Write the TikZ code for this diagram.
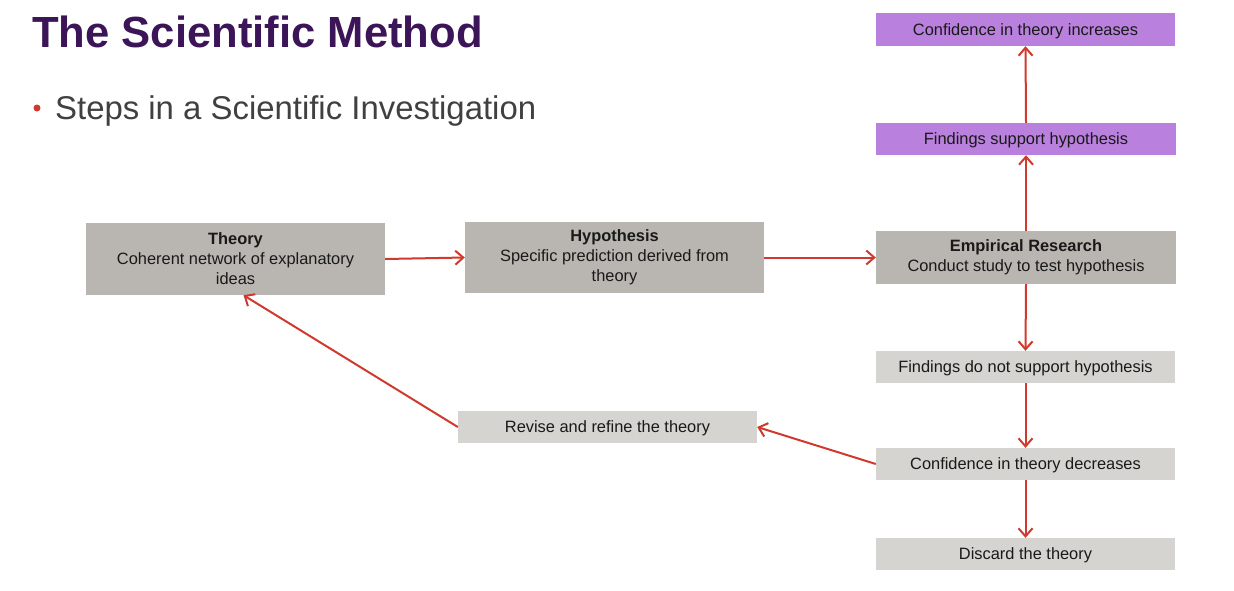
\documentclass[tikz,border=0pt]{standalone}
\usepackage{fontspec}
\setmainfont{Liberation Sans}
\usepackage{tikz}
\usetikzlibrary{arrows.meta, positioning}
\definecolor{smpurple}{RGB}{60, 20, 88}
\definecolor{smtext}{RGB}{64, 64, 64}
\definecolor{smred}{RGB}{208, 57, 46}
\definecolor{smdark}{RGB}{185, 182, 177}
\definecolor{smlight}{RGB}{214, 212, 208}
\definecolor{smlilac}{RGB}{185, 128, 222}

\begin{document}
\begin{tikzpicture}[x=1pt, y=-1pt,
    box/.style={minimum width=299pt, inner sep=0pt, align=center,
      text=black!90, font=\fontsize{16.4}{20}\selectfont},
    mainbox/.style={box, fill=smdark, minimum height=72pt},
    lowbox/.style={box, fill=smlight, minimum height=32pt, text height=14pt, text depth=3pt},
    upbox/.style={box, fill=smlilac, minimum height=32pt, text height=14pt, text depth=3pt},
    link/.style={-{Straight Barb[length=8pt, width=14pt]}, smred, line width=2pt}]

  \useasboundingbox (0,0) rectangle (1234,590);

  % --- heading ---
  \node[anchor=base west, inner sep=0pt, text=smpurple,
    font=\fontsize{43.6}{50}\selectfont\bfseries] (title) at (32,47)
    {The Scientific Method};
  \fill[smred] (37,108) circle (3.5pt);
  \node[anchor=base west, inner sep=0pt, text=smtext,
    font=\fontsize{32.9}{38}\selectfont] (sub) at (55,119.5)
    {Steps in a Scientific Investigation};

  % --- main row ---
  \node[mainbox] (theory) at (235.5,259)
    {\textbf{Theory}\\Coherent network of explanatory\\ideas};
  \node[mainbox, minimum height=71pt] (hypo) at (614.5,257.5)
    {\textbf{Hypothesis}\\Specific prediction derived from\\theory};
  \node[mainbox, minimum width=300pt, minimum height=53pt] (research) at (1026,257.5)
    {\textbf{Empirical Research}\\Conduct study to test hypothesis};

  % --- supporting branch ---
  \node[upbox, minimum width=300pt] (support) at (1026,139) {Findings support hypothesis};
  \node[upbox, minimum height=33pt] (up) at (1025.5,29.5) {Confidence in theory increases};

  % --- non-supporting branch ---
  \node[lowbox] (nosupport) at (1025.5,367) {Findings do not support hypothesis};
  \node[lowbox] (down) at (1025.5,464) {Confidence in theory decreases};
  \node[lowbox] (discard) at (1025.5,554) {Discard the theory};
  \node[lowbox] (revise) at (607.5,427) {Revise and refine the theory};

  % --- arrows ---
  \draw[link] (theory.east) -- (hypo.west);
  \draw[link] (hypo.east) -- (research.west);
  \draw[link] (research.north) -- (support.south);
  \draw[link] (support.north) -- (up.south);
  \draw[link] (research.south) -- (nosupport.north);
  \draw[link] (nosupport.south) -- (down.north);
  \draw[link] (down.south) -- (discard.north);
  \draw[link] (down.west) -- (revise.east);
  \draw[link] (revise.west) -- ([xshift=8pt]theory.south);

\end{tikzpicture}
\end{document}
